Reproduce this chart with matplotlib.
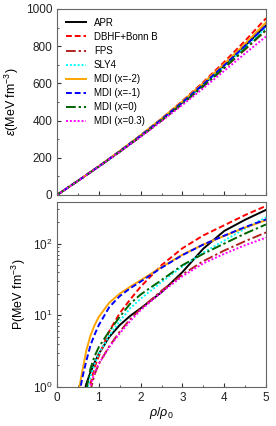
import matplotlib
matplotlib.use("Agg")
import matplotlib.pyplot as plt
from matplotlib.ticker import MultipleLocator, LogLocator, NullFormatter

# energy density, eps(rho) in MeV fm^-3
rho_e = [0.0, 0.5, 1.0, 1.5, 2.0, 2.5, 3.0, 3.5, 4.0, 4.5, 5.0]
eps_apr = [0, 76, 153, 233, 316, 404, 497, 594, 697, 803, 912]
eps_dbhf = [0, 76, 154, 235, 320, 410, 506, 607, 715, 829, 950]
eps_fps = [0, 76, 153, 232, 314, 400, 490, 584, 682, 782, 885]
eps_sly4 = [0, 76, 153, 233, 316, 403, 495, 591, 692, 795, 898]
eps_mdi_m2 = [0, 76, 155, 237, 322, 411, 504, 602, 705, 813, 928]
eps_mdi_m1 = [0, 76, 154, 235, 319, 407, 499, 596, 697, 802, 910]
eps_mdi_0 = [0, 76, 153, 233, 315, 401, 491, 585, 684, 786, 888]
eps_mdi_03 = [0, 76, 153, 232, 313, 397, 484, 574, 667, 761, 852]

# pressure, P(rho) in MeV fm^-3
rho_p = [0.5, 0.6, 0.7, 0.8, 0.9, 1.0, 1.25, 1.5, 1.75, 2.0, 2.5, 3.0, 3.5, 4.0, 4.5, 5.0]
p_apr = [0.3, 0.6, 1.1, 1.6, 2.2, 2.9, 5.0, 7.3, 9.8, 12.5, 21, 40, 85, 150, 215, 295]
p_dbhf = [0.2, 0.35, 0.6, 1.1, 1.9, 2.7, 6.0, 10.7, 16.6, 25, 50, 86, 130, 180, 250, 335]
p_fps = [0.2, 0.3, 0.5, 0.9, 1.5, 2.1, 3.7, 5.9, 8.8, 12.3, 22, 37, 57, 80, 108, 143]
p_sly4 = [0.3, 0.5, 0.85, 1.4, 2.1, 2.9, 5.2, 8.3, 12.5, 17.0, 29, 48, 75, 110, 162, 232]
p_mdi_m2 = [0.75, 1.6, 3.2, 5.2, 7.3, 9.5, 15.0, 20.0, 25.0, 30.8, 47, 70, 97, 128, 167, 212]
p_mdi_m1 = [0.6, 1.3, 2.3, 3.8, 5.4, 7.3, 13.0, 18.5, 23.8, 29.5, 46, 69, 97, 129, 170, 217]
p_mdi_0 = [0.3, 0.55, 0.9, 1.8, 2.7, 3.6, 6.0, 9.5, 14.5, 19.5, 31, 50, 72, 100, 138, 185]
p_mdi_03 = [0.2, 0.35, 0.6, 1.05, 1.6, 2.1, 3.6, 5.6, 8.3, 11.8, 21, 35, 53, 72, 95, 121]

labels = ["APR", "DBHF+Bonn B", "FPS", "SLY4",
          "MDI (x=-2)", "MDI (x=-1)", "MDI (x=0)", "MDI (x=0.3)"]
eps_all = [eps_apr, eps_dbhf, eps_fps, eps_sly4, eps_mdi_m2, eps_mdi_m1, eps_mdi_0, eps_mdi_03]
p_all = [p_apr, p_dbhf, p_fps, p_sly4, p_mdi_m2, p_mdi_m1, p_mdi_0, p_mdi_03]
styles = [
    dict(color="black", ls="-"),
    dict(color="red", ls=(0, (3, 1.5))),
    dict(color="#b22222", ls=(0, (5, 1.5, 1.2, 1.5))),
    dict(color="cyan", ls=(0, (1, 1))),
    dict(color="orange", ls="-"),
    dict(color="blue", ls=(0, (3, 1.5))),
    dict(color="darkgreen", ls=(0, (5, 1.5, 1.2, 1.5))),
    dict(color="magenta", ls=(0, (1, 1))),
]

plt.rcParams["font.family"] = ["Liberation Sans", "DejaVu Sans"]
plt.rcParams["font.size"] = 8
plt.rcParams["mathtext.fontset"] = "custom"
plt.rcParams["mathtext.rm"] = "Liberation Sans"
plt.rcParams["mathtext.it"] = "Liberation Sans:italic"

fig = plt.figure(figsize=(2.76, 4.26), dpi=100)
ax1 = fig.add_axes([0.2065, 0.5423, 0.7573, 0.4366])
ax2 = fig.add_axes([0.2065, 0.0915, 0.7573, 0.4343], sharex=ax1)

for lab, eps, p, st in zip(labels, eps_all, p_all, styles):
    ax1.plot(rho_e, eps, lw=1.4, label=lab, **st)
    ax2.plot(rho_p, p, lw=1.4, **st)

ax1.set_xlim(0, 5)
ax1.set_ylim(0, 1000)
ax1.set_ylabel(r"$\varepsilon$(MeV fm$^{-3}$)", fontsize=9, labelpad=3)
ax1.xaxis.set_major_locator(MultipleLocator(1))
ax1.xaxis.set_minor_locator(MultipleLocator(0.5))
ax1.yaxis.set_major_locator(MultipleLocator(200))
ax1.yaxis.set_minor_locator(MultipleLocator(100))
ax1.tick_params(labelbottom=False)
ax1.legend(loc="upper left", frameon=False, fontsize=7, handlelength=2.1,
           labelspacing=0.42, borderaxespad=0.5, handletextpad=0.8)

ax2.set_yscale("log")
ax2.set_ylim(1, 380)
ax2.set_xlabel(r"$\rho/\rho_0$", fontsize=9, labelpad=1)
ax2.set_ylabel(r"P(MeV fm$^{-3}$)", fontsize=9, labelpad=3)
ax2.yaxis.set_major_locator(LogLocator(base=10))
ax2.yaxis.set_minor_locator(LogLocator(base=10, subs=range(2, 10)))
ax2.yaxis.set_minor_formatter(NullFormatter())

for ax in (ax1, ax2):
    ax.tick_params(which="both", direction="in", colors="#333333", labelcolor="#222222")
    ax.tick_params(which="major", length=3, labelsize=8.5)
    ax.tick_params(which="minor", length=1.5)
    for s in ax.spines.values():
        s.set_color("#666666")

fig.savefig("out.png", dpi=100)
